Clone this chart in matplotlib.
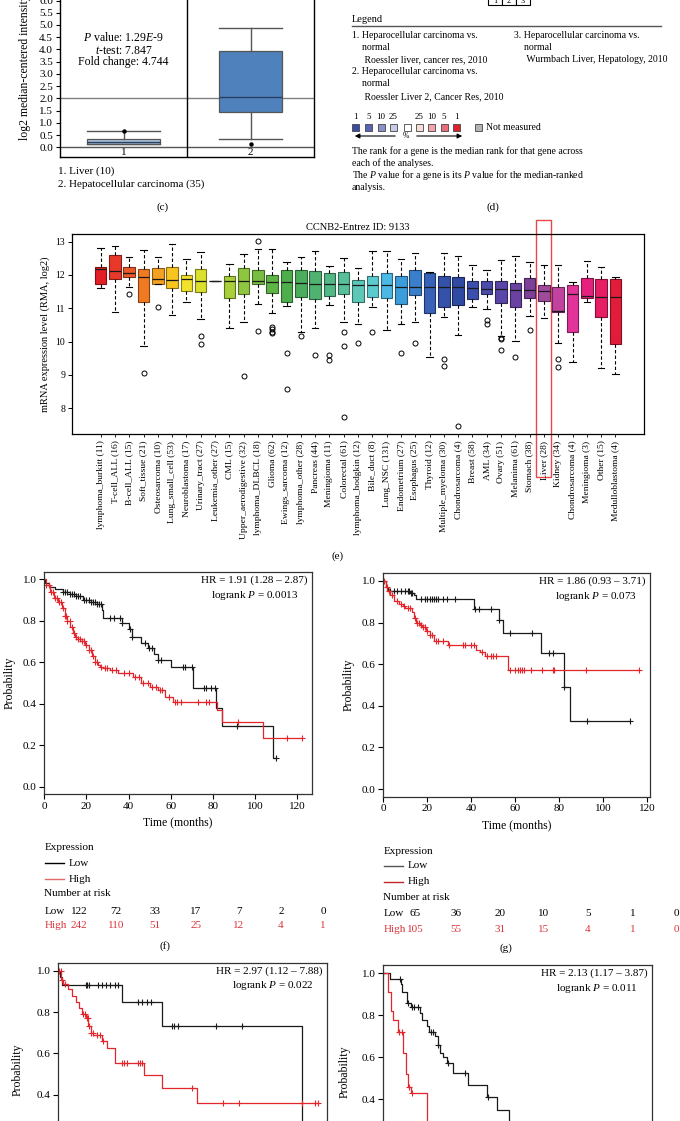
import numpy as np
import matplotlib
matplotlib.use("Agg")
import matplotlib.pyplot as plt
from matplotlib.patches import Rectangle, FancyArrowPatch
from matplotlib.lines import Line2D
from matplotlib.transforms import blended_transform_factory

plt.rcParams['font.family'] = ['Liberation Serif', 'DejaVu Serif']
plt.rcParams['mathtext.fontset'] = 'custom'
plt.rcParams['mathtext.rm'] = 'Liberation Serif'
plt.rcParams['mathtext.it'] = 'Liberation Serif:italic'

# ---------------- data: panel (c) ----------------
c_groups = ["1", "2"]
c_legend = ["1. Liver (10)", "2. Hepatocellular carcinoma (35)"]
c_q1 = [0.13, 1.45]
c_med = [0.22, 2.05]
c_q3 = [0.32, 3.95]
c_lo = [0.12, 0.32]
c_hi = [0.67, 4.88]
c_fliers = [[0.67], [0.15]]
c_colors = ["#a9c3df", "#4f81bd"]
c_yticks = [0.0, 0.5, 1.0, 1.5, 2.0, 2.5, 3.0, 3.5, 4.0, 4.5, 5.0, 5.5, 6.0]

# ---------------- data: panel (d) ----------------
d_entries_left = ["1. Heparocellular carcinoma vs.", "    normal", "     Roessler liver, cancer res, 2010",
                  "2. Heparocellular carcinoma vs.", "    normal", "     Roessler Liver 2, Cancer Res, 2010"]
d_entries_right = ["3. Heparocellular carcinoma vs.", "    normal", "     Wurmbach Liver, Hepatology, 2010"]
d_scale_labels = ["1", "5", "10", "25", "", "25", "10", "5", "1"]
d_scale_colors = ["#3a4ea0", "#5866b0", "#8a91c8", "#c9cbe5", "#ffffff", "#f7dada", "#f0a6a8", "#e86f78", "#e0202a"]
d_notes = ["The rank for a gene is the median rank for that gene across",
           "each of the analyses.",
           "The $P$ value for a gene is its $P$ value for the median-ranked",
           "analysis."]

# ---------------- data: panel (e) ----------------
e_cats = ["lymphoma_burkitt (11)", "T-cell_ALL (16)", "B-cell_ALL (15)", "Soft_tissue (21)",
          "Osteosarcoma (10)", "Lung_small_cell (53)", "Neuroblastoma (17)", "Urinary_tract (27)",
          "Leukemia_other (27)", "CML (15)", "Upper_aerodigestive (32)", "lymphoma_DLBCL (18)",
          "Glioma (62)", "Ewings_sarcoma (12)", "lymphoma_other (28)", "Pancreas (44)",
          "Meningioma (11)", "Colorectal (61)", "lymphoma_hodgkin (12)", "Bile_duct (8)",
          "Lung_NSC (131)", "Endometrium (27)", "Esophagus (25)", "Thyroid (12)",
          "Multiple_myeloma (30)", "Chondrosarcoma (4)", "Breast (58)", "AML (34)", "Ovary (51)",
          "Melanima (61)", "Stomach (38)", "Liver (28)", "Kidney (34)", "Chondrosarcoma (4)",
          "Meningioma (3)", "Other (15)", "Medulloblastoma (4)"]
e_hi = [12.80, 12.88, 12.55, 12.75, 12.55, 12.92, 12.47, 12.70, 11.83, 12.32, 12.62, 12.77, 12.77,
        12.40, 12.53, 12.72, 12.28, 12.52, 12.22, 12.72, 12.73, 12.47, 12.67, 12.10, 12.67, 12.58,
        12.30, 12.15, 12.45, 12.57, 12.40, 12.30, 12.30, 11.78, 12.43, 12.25, 11.93]
e_q3 = [12.25, 12.60, 12.25, 12.17, 12.20, 12.25, 12.01, 12.17, 11.83, 11.97, 12.20, 12.16, 11.99,
        12.14, 12.14, 12.11, 12.07, 12.08, 11.85, 11.98, 12.07, 11.98, 12.15, 12.07, 11.97, 11.95,
        11.83, 11.83, 11.83, 11.75, 11.92, 11.69, 11.63, 11.70, 11.92, 11.87, 11.88]
e_med = [12.17, 12.12, 12.07, 11.93, 11.87, 11.85, 11.87, 11.83, 11.83, 11.83, 11.81, 11.82, 11.79,
         11.79, 11.75, 11.73, 11.72, 11.72, 11.69, 11.69, 11.69, 11.65, 11.65, 11.63, 11.63, 11.63,
         11.60, 11.57, 11.57, 11.55, 11.55, 11.52, 10.93, 11.43, 11.38, 11.35, 11.33]
e_q1 = [11.73, 11.88, 11.95, 11.18, 11.73, 11.60, 11.53, 11.50, 11.83, 11.32, 11.43, 11.72, 11.45,
        11.20, 11.35, 11.28, 11.38, 11.42, 11.20, 11.35, 11.30, 11.12, 11.40, 10.85, 11.03, 11.10,
        11.28, 11.42, 11.15, 11.05, 11.30, 11.22, 10.88, 10.28, 11.30, 10.75, 9.93]
e_lo = [11.60, 10.88, 11.65, 9.87, 11.73, 10.80, 11.18, 10.68, 11.83, 10.40, 10.58, 11.12, 10.85,
        11.07, 10.30, 10.40, 11.10, 10.60, 10.53, 11.03, 10.35, 10.53, 10.58, 9.55, 10.75, 10.20,
        11.05, 10.97, 10.17, 10.02, 10.77, 10.72, 9.97, 9.38, 11.20, 9.20, 9.03]
e_fliers = [[], [], [11.43], [9.05], [11.03], [], [], [10.17, 9.93], [], [], [8.98], [13.01, 10.32],
            [10.45, 10.38, 10.30, 10.25], [9.65, 8.57], [10.17], [9.60], [9.60, 9.45],
            [10.28, 9.87, 7.73], [9.95], [10.28], [], [9.67], [9.95], [], [9.47, 9.27], [7.47], [],
            [10.65, 10.52], [10.12, 10.07, 9.75], [9.55], [10.35], [], [9.48, 9.25], [], [], [], []]
e_colors = ["#e31e24", "#e8382a", "#ec5a2a", "#f07a22", "#f4a021", "#f8c41e", "#f2e229", "#dbe02c",
            "#b8c46a", "#a9cf3a", "#8fc63f", "#78be42", "#5fb446", "#4fae4c", "#4aae5c", "#4fb26f",
            "#52b885", "#58bf98", "#5ec8b8", "#5ccbd0", "#4bb8e6", "#3c9ddb", "#3a7fcb", "#3862b8",
            "#3452aa", "#2f4aa3", "#3c4fae", "#4a4aab", "#5a45a8", "#6b42a2", "#7e3f98", "#a04a9c",
            "#c2429f", "#e2339a", "#e6207f", "#e61e63", "#e11d3a"]
e_highlight = "Liver (28)"

# ---------------- data: KM panels ----------------
# (f)
f_low_t = [0, 0.5, 2, 5, 9, 12, 15, 18.5, 22, 25, 27.5, 28, 37, 40, 41.5, 46, 49, 52, 54, 60, 70.7, 81.5, 84.5, 108.5]
f_low_s = [1.0, 0.98, 0.96, 0.95, 0.94, 0.93, 0.92, 0.90, 0.89, 0.88, 0.85, 0.81, 0.79, 0.76, 0.72, 0.69, 0.67, 0.64, 0.61, 0.575, 0.475, 0.38, 0.29, 0.14]
f_low_c = [9, 10, 11, 12, 13, 14, 15, 16, 17, 19, 20, 21, 22, 23, 24, 25, 26, 27, 31, 33, 36, 37, 40.7, 41.5,
           48, 49.5, 51, 54, 55.5, 66, 67, 70, 75.7, 77, 79, 81, 91.5, 110]
f_high_t = [0, 1, 2.7, 4.5, 6.7, 8.5, 9.8, 11, 12.2, 13.5, 14.6, 16, 17.8, 19.5, 21, 22.5, 24, 25.5, 26.5,
            28, 31, 35, 42, 46, 50, 54, 57.4, 61, 82, 84.5, 104]
f_high_s = [1.0, 0.97, 0.94, 0.91, 0.89, 0.86, 0.82, 0.80, 0.77, 0.74, 0.72, 0.71, 0.70, 0.68, 0.66, 0.63,
            0.60, 0.585, 0.578, 0.57, 0.562, 0.546, 0.527, 0.498, 0.482, 0.466, 0.434, 0.41, 0.37, 0.31, 0.235]
f_high_c = [1, 2, 3, 4, 5, 6, 7, 8, 9, 10, 10.5, 11, 12, 13, 14, 15, 16, 17, 18, 19, 20, 21, 22, 23, 24, 25,
            27, 29, 30, 32, 34, 38, 40, 43, 45, 47, 49, 51, 53, 55, 56, 59, 62, 63, 65, 73, 77, 78, 92, 115, 122.5]
f_hr = ["HR = 1.91 (1.28 \u2013 2.87)", "logrank $P$ = 0.0013"]
f_risk_low = ["122", "72", "33", "17", "7", "2", "0"]
f_risk_high = ["242", "110", "51", "25", "12", "4", "1"]

# (g)
g_low_t = [0, 1, 2, 12, 14, 15, 41.2, 52.7, 54.5, 71.5, 82.3, 84.8]
g_low_s = [1.0, 0.97, 0.95, 0.94, 0.93, 0.915, 0.865, 0.81, 0.75, 0.655, 0.49, 0.325]
g_low_c = [3, 5, 6, 8, 10, 11, 11.5, 12.5, 13, 17, 19, 20, 21, 22, 23, 24, 25, 27, 29, 32.5, 41.7, 43.6,
           48.8, 52.7, 57.6, 67.7, 75.3, 77.3, 82.3, 92.4, 112]
g_high_t = [0, 1, 1.8, 3, 5, 7, 9, 10, 13, 14, 15, 16.5, 17.5, 19.5, 21, 23, 29.5, 42, 44, 46, 56.8]
g_high_s = [1.0, 0.97, 0.95, 0.93, 0.905, 0.89, 0.88, 0.87, 0.85, 0.82, 0.80, 0.79, 0.78, 0.76, 0.74, 0.71,
            0.69, 0.67, 0.66, 0.64, 0.57]
g_high_c = [0.5, 1.5, 2.5, 4, 6, 8, 9.5, 11, 12, 14.5, 15.5, 16, 17, 18, 19, 20, 21, 22, 24, 25, 27, 30, 36,
            37, 40, 41, 45, 47, 49, 50, 51, 57.5, 60, 61, 62, 63, 64, 67, 72, 77, 77.5, 92, 116]
g_hr = ["HR = 1.86 (0.93 \u2013 3.71)", "logrank $P$ = 0.073"]
g_risk_low = ["65", "36", "20", "10", "5", "1", "0"]
g_risk_high = ["105", "55", "31", "15", "4", "1", "0"]

# (h)
h_low_t = [0, 0.7, 1.5, 28.3, 46.2, 108.8]
h_low_s = [1.0, 0.97, 0.93, 0.85, 0.73, 0.0]
h_low_c = [12.4, 13.0, 13.9, 17.9, 19.4, 21.3, 23.1, 25.3, 26.8, 35.5, 37.3, 39.5, 41.4, 50.7, 51.7, 53.7, 70.5, 82]
h_high_t = [0, 1.2, 2.2, 4.5, 6, 7.9, 9.2, 10.4, 12.4, 13.4, 14.5, 15.6, 19.4, 21.6, 25.3, 38.3, 46.5, 61.8]
h_high_s = [1.0, 0.955, 0.935, 0.91, 0.88, 0.85, 0.82, 0.79, 0.77, 0.73, 0.70, 0.69, 0.66, 0.625, 0.555,
            0.495, 0.43, 0.36]
h_high_c = [0.45, 1.0, 1.5, 3, 11.2, 11.9, 12.7, 13.1, 13.9, 14.5, 15.4, 17.1, 18.6, 20.1, 28.3, 29.4,
            30.6, 35.8, 36.5, 37.3, 59.6, 73.5, 80.9, 108.8, 114.8, 116.2]
h_hr = ["HR = 2.97 (1.12 \u2013 7.88)", "logrank $P$ = 0.022"]

# (i)
i_low_t = [0, 3, 7.8, 8.2, 10.4, 12.2, 16.4, 17.1, 19.7, 20.6, 23, 24.6, 25.3, 26.5, 28.3, 31.3, 38, 46.2, 51, 56]
i_low_s = [1.0, 0.975, 0.95, 0.91, 0.86, 0.84, 0.81, 0.78, 0.75, 0.72, 0.70, 0.66, 0.62, 0.60, 0.575,
           0.525, 0.47, 0.41, 0.35, 0.28]
i_low_c = [0, 7.5, 11.2, 12.7, 13.7, 15.6, 21.2, 22.0, 24.6, 29.1, 36.5, 46.6]
i_high_t = [0, 1.9, 3.3, 4.5, 6.7, 8.9, 10, 11.2, 12.4, 19.7]
i_high_s = [1.0, 0.91, 0.82, 0.78, 0.72, 0.62, 0.52, 0.46, 0.43, 0.25]
i_high_c = [7.2, 8.2, 11.6, 12.7]
i_hr = ["HR = 2.13 (1.17 \u2013 3.87)", "logrank $P$ = 0.011"]

km_yticks = [0.0, 0.2, 0.4, 0.6, 0.8, 1.0]
km_yticks_cut = [0.4, 0.6, 0.8, 1.0]
km_xticks = [0, 20, 40, 60, 80, 100, 120]

# ---------------- figure ----------------
W, H = 680, 1121
fig = plt.figure(figsize=(W / 100, H / 100), dpi=100)
fig.patch.set_facecolor("white")


def add_ax(l, t, r, b):
    return fig.add_axes([l / W, 1 - b / H, (r - l) / W, (b - t) / H])


def ftext(x, y, s, **kw):
    kw.setdefault("va", "center")
    kw.setdefault("fontsize", 8)
    return fig.text(x / W, 1 - y / H, s, **kw)


def fline(x0, x1, y0, y1, **kw):
    fig.add_artist(Line2D([x0 / W, x1 / W], [1 - y0 / H, 1 - y1 / H], transform=fig.transFigure, **kw))


def darker(c, f=0.6):
    rgb = np.array(matplotlib.colors.to_rgb(c))
    return tuple(rgb * f)


# ===== panel (c) =====
axc = add_ax(60, -6.8, 314, 157.3)
stats_c = []
for i in range(len(c_groups)):
    stats_c.append(dict(med=c_med[i], q1=c_q1[i], q3=c_q3[i], whislo=c_lo[i], whishi=c_hi[i],
                        fliers=c_fliers[i], label=c_groups[i]))
c_widths = [0.575, 0.5]
bp = axc.bxp(stats_c, positions=[1, 2], widths=c_widths, patch_artist=True, capwidths=c_widths,
             whiskerprops=dict(color="#555555", lw=1.0), capprops=dict(color="#555555", lw=1.0),
             medianprops=dict(color="#2a3f5f", lw=1.0),
             flierprops=dict(marker="o", markerfacecolor="black", markeredgecolor="black", markersize=2.2))
for patch, col in zip(bp["boxes"], c_colors):
    patch.set_facecolor(col)
    patch.set_edgecolor("#555555")
    patch.set_linewidth(0.9)
axc.set_xlim(0.5, 2.5)
axc.set_ylim(-0.41, 6.3)
axc.set_yticks(c_yticks)
axc.set_yticklabels([f"{v:.1f}" for v in c_yticks], fontsize=8)
axc.set_xticks([])
axc.axhline(2.0, color="#808080", lw=1.0, zorder=0)
axc.axhline(0.0, color="#555555", lw=1.0, zorder=0)
axc.axvline(1.5, color="black", lw=1.0)
for i, g in enumerate(c_groups):
    axc.text(i + 1, -0.21, g, ha="center", va="center", fontsize=8)
axc.tick_params(axis="y", direction="out", length=3, width=0.8, pad=2)
for sp in axc.spines.values():
    sp.set_linewidth(1.0)
axc.spines["top"].set_visible(False)
axc.text(1.0, 4.48, "$P$ value: 1.29$E$-9", ha="center", va="center", fontsize=8.5)
axc.text(1.0, 3.95, "$t$-test: 7.847", ha="center", va="center", fontsize=8.5)
axc.text(1.0, 3.5, "Fold change: 4.744", ha="center", va="center", fontsize=8.5)
ftext(25, 140, "log2 median-centered intensity", rotation=90, ha="center", va="bottom", fontsize=8.5)
ftext(58, 171, c_legend[0], fontsize=8)
ftext(58, 184, c_legend[1], fontsize=8)
ftext(163, 207, "(c)", ha="center", fontsize=8)

# ===== panel (d) =====
# partial heat-map header at top
for k, lab in enumerate(["1", "2", "3"]):
    fig.add_artist(Rectangle(((488 + 14 * k) / W, 1 - 5 / H), 14 / W, 12 / H, transform=fig.transFigure,
                             facecolor="white", edgecolor="black", lw=0.8))
    ftext(495 + 14 * k, 1, lab, ha="center", fontsize=6)
ftext(352, 19, "Legend", fontsize=7.5)
fline(352, 661, 26, 26, color="#555555", lw=1.0)
ly = [35, 48, 60, 72, 84, 97]
for y, s in zip(ly, d_entries_left):
    ftext(352, y, s, fontsize=7)
for y, s in zip(ly[:3], d_entries_right):
    ftext(514, y, s, fontsize=7)
sq_x = [352.3, 365.0, 377.5, 390.0, 403.5, 416.0, 428.3, 440.7, 453.3]
for x, lab, col in zip(sq_x, d_scale_labels, d_scale_colors):
    fig.add_artist(Rectangle((x / W, 1 - 131 / H), 7 / W, 7 / H, transform=fig.transFigure,
                             facecolor=col, edgecolor="#444444", lw=0.6))
    if lab:
        ftext(x + 3.5, 117, lab, ha="center", fontsize=6.5)
fig.add_artist(Rectangle((475 / W, 1 - 131 / H), 7 / W, 7 / H, transform=fig.transFigure,
                         facecolor="#b4b4b4", edgecolor="#444444", lw=0.6))
ftext(486, 127.5, "Not measured", fontsize=7)
fig.add_artist(FancyArrowPatch((398 / W, 1 - 136 / H), (352 / W, 1 - 136 / H), transform=fig.transFigure,
                               arrowstyle="-|>", mutation_scale=7, color="black", lw=0.8))
fig.add_artist(FancyArrowPatch((414 / W, 1 - 136 / H), (465 / W, 1 - 136 / H), transform=fig.transFigure,
                               arrowstyle="-|>", mutation_scale=7, color="black", lw=0.8))
ftext(406, 136, "%", ha="center", fontsize=5.5)
for y, s in zip([151, 163, 175, 188], d_notes):
    ftext(352, y, s, fontsize=7)
ftext(493, 207, "(d)", ha="center", fontsize=8)

# ===== panel (e) =====
axe = add_ax(72, 234.3, 644, 434.3)
pos = np.arange(1, len(e_cats) + 1)
stats_e = []
for i in range(len(e_cats)):
    stats_e.append(dict(med=e_med[i], q1=e_q1[i], q3=e_q3[i], whislo=e_lo[i], whishi=e_hi[i],
                        fliers=e_fliers[i], label=e_cats[i]))
bpe = axe.bxp(stats_e, positions=pos, widths=0.8, patch_artist=True, capwidths=0.45,
              whiskerprops=dict(color="black", lw=0.8, linestyle=(0, (3, 2))),
              capprops=dict(color="black", lw=0.8),
              medianprops=dict(color="#1a1a1a", lw=0.9),
              flierprops=dict(marker="o", markerfacecolor="none", markeredgecolor="black",
                              markersize=3.6, markeredgewidth=0.7))
for patch, col in zip(bpe["boxes"], e_colors):
    patch.set_facecolor(col)
    patch.set_edgecolor(darker(col, 0.55))
    patch.set_linewidth(0.8)
axe.set_xlim(-1.0, 39.0)
axe.set_ylim(7.22, 13.22)
axe.set_xticks(pos)
axe.set_xticklabels(e_cats, rotation=90, fontsize=6.8)
axe.set_yticks([8, 9, 10, 11, 12, 13])
axe.tick_params(axis="y", labelsize=7, length=3, width=0.7, pad=2)
axe.tick_params(axis="x", length=2.5, width=0.6, pad=2)
for sp in axe.spines.values():
    sp.set_linewidth(0.9)
axe.set_title("CCNB2-Entrez ID: 9133", fontsize=7.5, pad=3)
axe.set_ylabel("mRNA expression level (RMA, log2)", fontsize=7.5, labelpad=4)
hi_idx = e_cats.index(e_highlight) + 1
trans = blended_transform_factory(axe.transData, axe.transAxes)
axe.add_patch(Rectangle((hi_idx - 0.55, -0.2135), 1.05, 1.285, transform=trans, clip_on=False,
                        fill=False, edgecolor="#e8474c", lw=1.0))
ftext(338, 556, "(e)", ha="center", fontsize=8)


# ===== KM helper =====
def km(ax, t, s, cens, color):
    t = np.asarray(t, float)
    s = np.asarray(s, float)
    cens = np.asarray(cens, float)
    tend = max(t[-1], cens.max())
    ax.step(np.append(t, tend), np.append(s, s[-1]), where="post", color=color, lw=0.9)
    idx = np.searchsorted(t, cens, side="right") - 1
    ax.plot(cens, s[idx], "+", color=color, ms=5, mew=0.8, ls="none")


def km_axes(box, xlim, ylim, low, high, hr, cut=False):
    ax = add_ax(*box)
    km(ax, *low, color="#1a1a1a")
    km(ax, *high, color="#e3262b")
    ax.set_xlim(*xlim)
    ax.set_ylim(*ylim)
    yt = km_yticks_cut if cut else km_yticks
    ax.set_yticks(yt)
    ax.set_yticklabels([f"{v:.1f}" for v in yt], fontsize=8)
    if cut:
        ax.set_xticks([])
    else:
        ax.set_xticks(km_xticks)
        ax.set_xticklabels([str(v) for v in km_xticks], fontsize=8)
    ax.tick_params(direction="out", length=3.5, width=0.8, pad=2)
    for sp in ax.spines.values():
        sp.set_linewidth(0.9)
        sp.set_color("#333333")
    ax.text(0.985, 0.985, hr[0], transform=ax.transAxes, ha="right", va="top", fontsize=8)
    ax.text(0.95, 0.925, hr[1], transform=ax.transAxes, ha="right", va="top", fontsize=8)
    if not cut:
        ax.set_ylabel("Probability", fontsize=8.5, labelpad=5)
    return ax


axf = km_axes((44.3, 572, 312, 794.3), (0, 127.1), (-0.037, 1.034),
              (f_low_t, f_low_s, f_low_c), (f_high_t, f_high_s, f_high_c), f_hr)
axf.set_xlabel("Time (months)", fontsize=8.5, labelpad=4)
axg = km_axes((383.3, 573, 650, 796.7), (0, 121.2), (-0.037, 1.038),
              (g_low_t, g_low_s, g_low_c), (g_high_t, g_high_s, g_high_c), g_hr)
axg.set_xlabel("Time (months)", fontsize=8.5, labelpad=4)
axh = km_axes((58.3, 962.7, 326.7, 1184.8), (0, 120), (-0.037, 1.039),
              (h_low_t, h_low_s, h_low_c), (h_high_t, h_high_s, h_high_c), h_hr, cut=True)
axi = km_axes((383.3, 965, 651.7, 1191), (0, 120), (-0.037, 1.04),
              (i_low_t, i_low_s, i_low_c), (i_high_t, i_high_s, i_high_c), i_hr, cut=True)
ftext(18, 1070, "Probability", rotation=90, ha="center", fontsize=8.5)
ftext(345, 1072, "Probability", rotation=90, ha="center", fontsize=8.5)

# risk tables and legends
risk_x_f = [79, 116, 155, 196, 239, 281, 323]
risk_x_g = [415, 456, 500, 544, 588, 633, 676]


def risk_block(x0, ys, xs, lowv, highv, low_col, high_col, risk_y):
    ftext(x0, ys[0], "Expression", fontsize=8)
    fline(x0, x0 + 19, ys[1], ys[1], color=low_col, lw=1.0)
    ftext(x0 + 24, ys[1], "Low", fontsize=8)
    fline(x0, x0 + 19, ys[2], ys[2], color=high_col, lw=1.0)
    ftext(x0 + 24, ys[2], "High", fontsize=8)
    ftext(x0 - 1, ys[3], "Number at risk", fontsize=8)
    ftext(x0, risk_y[0], "Low", fontsize=8)
    ftext(x0, risk_y[1], "High", fontsize=8, color="#d9343a")
    for x, a, b in zip(xs, lowv, highv):
        ftext(x, risk_y[0], a, ha="center", fontsize=8)
        ftext(x, risk_y[1], b, ha="center", fontsize=8, color="#d9343a")


risk_block(45, [848, 863, 879, 894], risk_x_f, f_risk_low, f_risk_high, "black", "#e06a6a", [911, 926])
risk_block(384, [851, 866, 882, 897], risk_x_g, g_risk_low, g_risk_high, "#555555", "#c0282d", [913, 929])
ftext(165, 946, "(f)", ha="center", fontsize=8)
ftext(506, 948, "(g)", ha="center", fontsize=8)

fig.savefig("out.png", dpi=100, facecolor="white")
